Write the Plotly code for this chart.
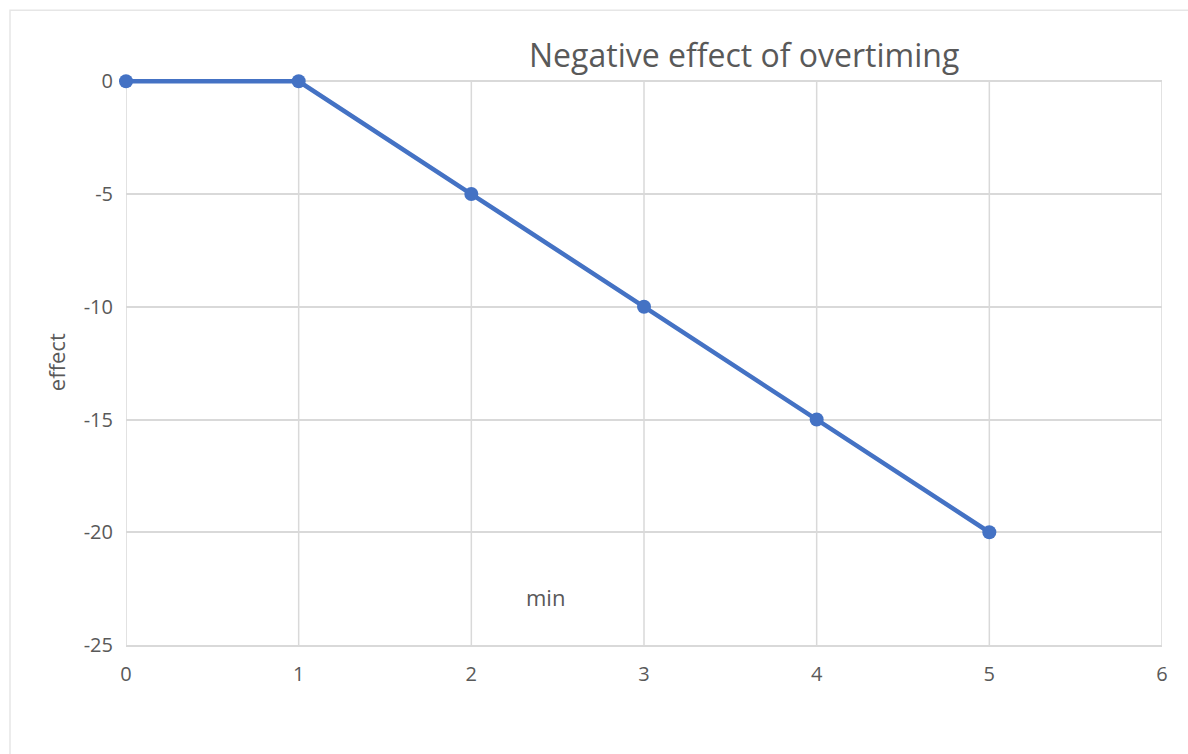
import plotly.graph_objects as go

# Effect of overtime, by minutes over
minutes = [0, 1, 2, 3, 4, 5]
effect = [0, 0, -5, -10, -15, -20]

x_ticks = [0, 1, 2, 3, 4, 5, 6]
y_ticks = [0, -5, -10, -15, -20, -25]
y_tick_text = ["0", "-5", "-10", "-15", "-20", "-25"]

W, H = 1188, 754
# pixel frame of the axes box (top edge sits at y = 0)
L, R, TOP, B = 126, 26, 81, 109
Y_MIN, Y_MAX = -25, 0
# a little headroom above 0 so the flat segment is not clipped in half
HEADROOM = 0.5
unit_px = (H - TOP - B) / (Y_MAX - Y_MIN)
T = TOP - HEADROOM * unit_px
pw, ph = W - L - R, H - T - B

def px_x(p):
    return (p - L) / pw

def px_y(p):
    return 1 - (p - T) / ph

text_gray = "#595959"
grid = "#D9D9D9"
font = "Open Sans, Noto Sans, sans-serif"

fig = go.Figure(
    go.Scatter(
        x=minutes,
        y=effect,
        mode="lines+markers",
        line=dict(color="#4472C4", width=4.5),
        marker=dict(color="#4472C4", size=14),
        cliponaxis=False,
        showlegend=False,
    )
)

# vertical gridlines running from the bottom to the top gridline only
v_grid = [
    dict(type="line", xref="x", yref="y", x0=t, x1=t, y0=Y_MIN, y1=Y_MAX,
         line=dict(color=grid, width=1.5), layer="below")
    for t in x_ticks
]

fig.update_layout(
    width=W,
    height=H,
    margin=dict(l=L, r=R, t=T, b=B),
    paper_bgcolor="white",
    plot_bgcolor="white",
    font=dict(family=font, color=text_gray, size=20),
    xaxis=dict(
        range=[0, 6],
        tickvals=x_ticks,
        showgrid=False,
        zeroline=False,
        showline=True,
        linecolor=grid,
        linewidth=1.5,
        ticks="",
        ticklabelstandoff=10,
        tickfont=dict(size=20, color=text_gray),
    ),
    yaxis=dict(
        range=[Y_MIN, Y_MAX + HEADROOM],
        tickvals=y_ticks,
        ticktext=y_tick_text,
        showgrid=True,
        gridcolor=grid,
        gridwidth=1.5,
        zeroline=False,
        showline=False,
        ticks="",
        ticklabelstandoff=12,
        tickfont=dict(size=20, color=text_gray),
    ),
    shapes=v_grid + [
        # outer chart border
        dict(type="rect", xref="paper", yref="paper",
             x0=px_x(10), x1=px_x(1200), y0=px_y(770), y1=px_y(10),
             line=dict(color="#E6E6E6", width=1.5), layer="below"),
    ],
    annotations=[
        dict(text="Negative effect of overtiming", xref="paper", yref="paper",
             x=px_x(744), y=px_y(54), xanchor="center", yanchor="middle",
             showarrow=False,
             font=dict(size=32, color=text_gray, family=font)),
        dict(text="min", xref="paper", yref="paper",
             x=px_x(545), y=px_y(597), xanchor="center", yanchor="middle",
             showarrow=False,
             font=dict(size=22, color=text_gray, family=font)),
        dict(text="effect", xref="paper", yref="paper",
             x=px_x(56), y=px_y(362), xanchor="center", yanchor="middle",
             showarrow=False, textangle=-90,
             font=dict(size=22, color=text_gray, family=font)),
    ],
)

fig.write_html("out.html")
